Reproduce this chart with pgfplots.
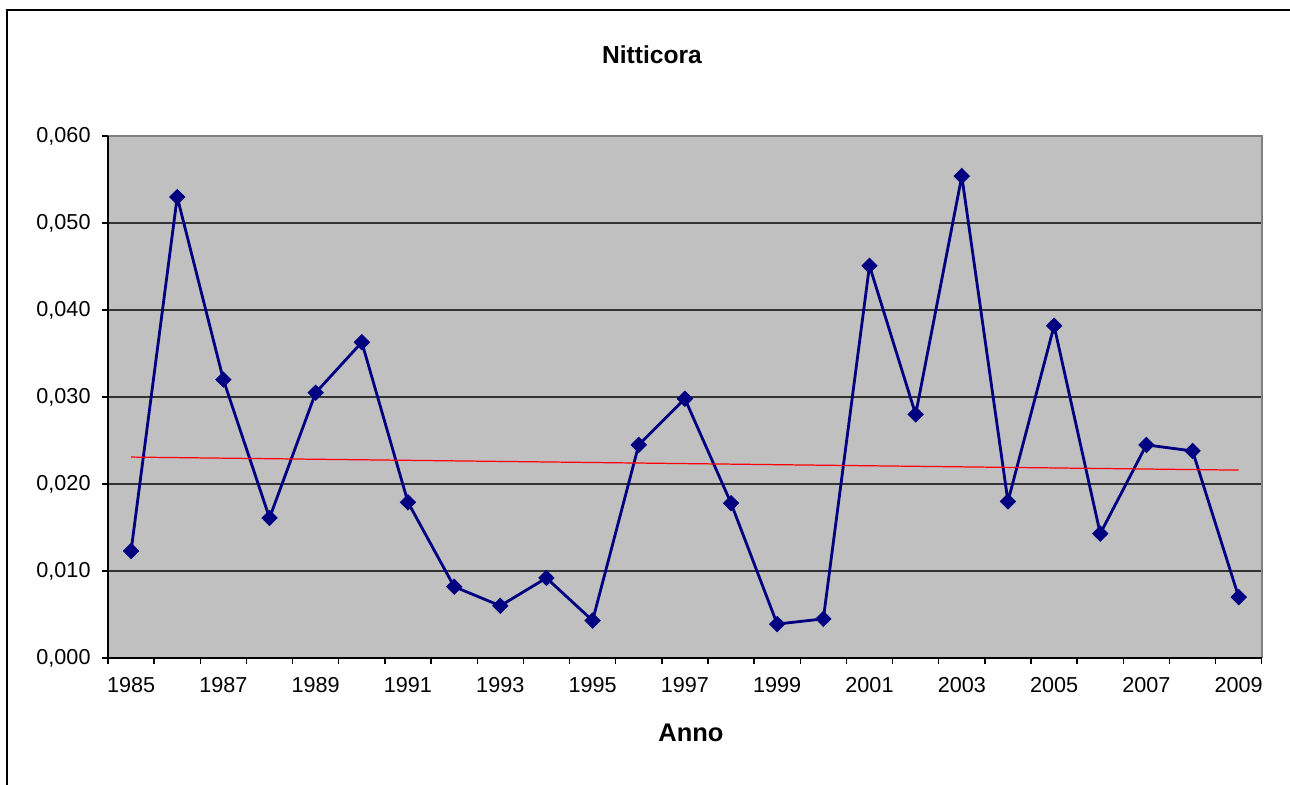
\documentclass[border=0pt]{standalone}
\usepackage{pgfplots}
\pgfplotsset{compat=1.18}
\usepackage{fontspec}
\setmainfont{Liberation Sans}
\definecolor{plotbg}{RGB}{192,192,192}
\definecolor{seriesblue}{RGB}{0,0,128}

\begin{document}
\begin{tikzpicture}[x=0.02cm,y=0.02cm]
\useasboundingbox (0,0) rectangle (1290,784);
\draw[black, line width=0.8pt] (7,-10) -- (7,774) -- (1300,774);
\coordinate (origin) at (108,126);
\begin{axis}[
    at={(origin)}, anchor=south west,
    scale only axis,
    width=23.08cm, height=10.44cm,
    xmin=1984.5, xmax=2009.5,
    ymin=0, ymax=0.06,
    axis background/.style={fill=plotbg},
    axis line style={draw=none},
    clip=false,
    xtick pos=bottom, ytick pos=left,
    xtick={1985,1987,...,2009},
    minor xtick={1984.5,1985.5,...,2009.5},
    major x tick style={draw=none},
    minor x tick style={black, line width=0.8pt},
    minor tick length=0.12cm,
    ytick={0,0.01,...,0.061},
    major y tick style={black, line width=0.8pt},
    major tick length=0.12cm,
    tick align=outside,
    xticklabel style={/pgf/number format/1000 sep={}, yshift=-4pt},
    yticklabel style={/pgf/number format/.cd, fixed, fixed zerofill, precision=3, use comma},
    yticklabel shift=3pt,
    scaled y ticks=false,
    /pgf/number format/assume math mode=true,
    ticklabel style={font=\fontsize{12.3}{14}\selectfont},
    ymajorgrids,
    grid style={black!80, line width=0.8pt},
]
\addplot[seriesblue, line width=1.6pt, mark=square*, mark size=3.1pt,
    mark options={rotate=45, solid, fill=seriesblue, draw=seriesblue, line width=0.4pt}]
coordinates {
(1985,0.0123) (1986,0.0530) (1987,0.0320) (1988,0.0161) (1989,0.0305)
(1990,0.0363) (1991,0.0179) (1992,0.0082) (1993,0.0060) (1994,0.0092)
(1995,0.0043) (1996,0.0245) (1997,0.0298) (1998,0.0178) (1999,0.0039)
(2000,0.0045) (2001,0.0451) (2002,0.0280) (2003,0.0554) (2004,0.0180)
(2005,0.0382) (2006,0.0143) (2007,0.0245) (2008,0.0238) (2009,0.0070)
};
\addplot[red, line width=0.7pt] coordinates {(1985,0.0231) (2009,0.0216)};
\draw[gray, line width=1pt] (rel axis cs:0,1) -- (rel axis cs:1,1) -- (rel axis cs:1,0);
\draw[black, line width=1pt] (rel axis cs:0,1) -- (rel axis cs:0,0) -- (rel axis cs:1,0);
\end{axis}
\node[font=\fontsize{14}{16}\selectfont\bfseries] at (652,729) {Nitticora};
\node[font=\fontsize{14.5}{16}\selectfont\bfseries] at (691,51) {Anno};
\end{tikzpicture}
\end{document}
